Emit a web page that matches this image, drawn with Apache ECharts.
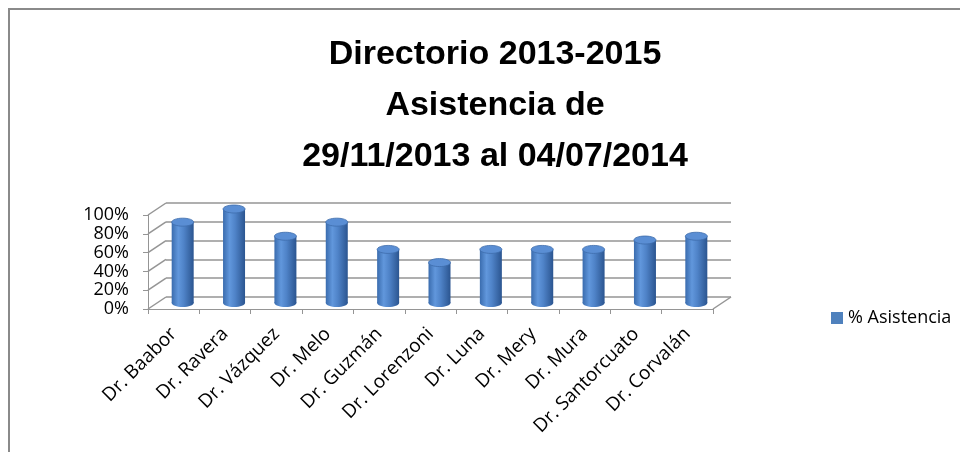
<!DOCTYPE html>
<html>
<head>
<meta charset="utf-8">
<script src="https://cdn.jsdelivr.net/npm/echarts@6/dist/echarts.min.js"></script>
<style>
html,body{margin:0;padding:0;background:#fff;}
#main{width:960px;height:452px;}
</style>
</head>
<body>
<div id="main"></div>
<script>
const categories = ['Dr. Baabor','Dr. Ravera','Dr. Vázquez','Dr. Melo','Dr. Guzmán','Dr. Lorenzoni','Dr. Luna','Dr. Mery','Dr. Mura','Dr. Santorcuato','Dr. Corvalán'];
const asistencia = [86, 100, 71, 86, 57, 43, 57, 57, 57, 67, 71];
const yTicks = [0, 20, 40, 60, 80, 100];
const seriesName = '% Asistencia';
const titleLines = ['Directorio 2013-2015', 'Asistencia de', '29/11/2013 al 04/07/2014'];

const DX = 18, DY = -12;
const TITLE_FONT = '"Liberation Sans", Arial, sans-serif';
const FONT = '"Open Sans", "Liberation Sans", sans-serif';
const GRID_COLOR = '#959595';

const chart = echarts.init(document.getElementById('main'), null, {renderer: 'canvas'});

const barGrad = new echarts.graphic.LinearGradient(0, 0, 1, 0, [
  {offset: 0, color: '#3a6cae'},
  {offset: 0.3, color: '#6197dc'},
  {offset: 0.55, color: '#4f83c8'},
  {offset: 1, color: '#2b5590'}
]);

const option = {
  backgroundColor: '#ffffff',
  animation: false,
  title: {
    text: titleLines.join('\n'),
    left: 490,
    textAlign: 'center',
    top: 24,
    textStyle: {
      fontFamily: TITLE_FONT,
      fontWeight: 'bold',
      fontSize: 34,
      lineHeight: 51,
      color: '#000'
    }
  },
  legend: {
    data: [seriesName],
    left: 826,
    top: 304,
    icon: 'rect',
    itemWidth: 12,
    itemHeight: 12,
    itemGap: 5,
    textStyle: {fontFamily: FONT, fontSize: 18, color: '#000'}
  },
  graphic: [{
    type: 'rect',
    shape: {x: 9, y: 9, width: 1000, height: 500},
    style: {fill: 'none', stroke: '#8a8a8a', lineWidth: 2},
    silent: true,
    z: -10
  }],
  grid: [
    {left: 148, top: 215, width: 565, height: 94},
    {left: 148 + DX, top: 215 + DY, width: 565, height: 94}
  ],
  xAxis: [
    {
      gridIndex: 0, type: 'category', data: categories,
      axisLine: {show: true, lineStyle: {color: GRID_COLOR, width: 1}},
      axisTick: {show: true, length: 5, lineStyle: {color: GRID_COLOR}},
      axisLabel: {rotate: 45, margin: 22, fontFamily: FONT, fontSize: 19, color: '#000', interval: 0}
    },
    {
      gridIndex: 1, type: 'category', data: categories,
      axisLine: {show: false}, axisTick: {show: false}, axisLabel: {show: false}
    }
  ],
  yAxis: [
    {
      gridIndex: 0, type: 'value', min: 0, max: 100, interval: 20,
      axisLine: {show: true, lineStyle: {color: GRID_COLOR, width: 1}},
      axisTick: {show: true, length: 5, lineStyle: {color: GRID_COLOR}},
      splitLine: {show: false},
      axisLabel: {formatter: '{value}%', margin: 19, fontFamily: FONT, fontSize: 18, color: '#000'}
    },
    {
      gridIndex: 1, type: 'value', min: 0, max: 100, interval: 20,
      axisLine: {show: false}, axisTick: {show: false}, axisLabel: {show: false},
      splitLine: {show: true, lineStyle: {color: GRID_COLOR, width: 1.5}}
    }
  ],
  series: [
    {
      type: 'custom',
      name: 'frame',
      xAxisIndex: 0, yAxisIndex: 0,
      silent: true,
      data: yTicks.map(v => [0, v]),
      encode: {x: 0, y: 1},
      renderItem: function (params, api) {
        const p = api.coord([api.value(0), api.value(1)]);
        const band = api.size([1, 0])[0];
        const left = p[0] - band / 2;
        const children = [{
          type: 'line',
          shape: {x1: left, y1: p[1], x2: left + DX, y2: p[1] + DY},
          style: {stroke: GRID_COLOR, lineWidth: 1.5}
        }];
        if (api.value(1) === 0) {
          const right = left + band * categories.length;
          children.push({
            type: 'line',
            shape: {x1: right, y1: p[1], x2: right + DX, y2: p[1] + DY},
            style: {stroke: GRID_COLOR, lineWidth: 1.5}
          });
        }
        return {type: 'group', children: children};
      },
      z: 1
    },
    {
      type: 'custom',
      name: seriesName,
      xAxisIndex: 0, yAxisIndex: 0,
      data: asistencia.map((v, i) => [i, v]),
      encode: {x: 0, y: 1},
      itemStyle: {color: '#4F81BD'},
      renderItem: function (params, api) {
        const i = api.value(0), v = api.value(1);
        const top = api.coord([i, v]);
        const base = api.coord([i, 0]);
        const cx = top[0] + DX / 2;
        const ty = top[1] + DY / 2;
        const by = base[1] + DY / 2;
        const rx = 11, ry = 4;
        return {
          type: 'group',
          children: [
            {type: 'ellipse', shape: {cx: cx, cy: by, rx: rx, ry: ry}, style: {fill: barGrad}},
            {type: 'rect', shape: {x: cx - rx, y: ty, width: rx * 2, height: by - ty}, style: {fill: barGrad}},
            {type: 'ellipse', shape: {cx: cx, cy: ty, rx: rx, ry: ry}, style: {fill: '#5a8ed4', stroke: '#3d6cab', lineWidth: 0.8}}
          ]
        };
      },
      z: 2
    }
  ]
};
chart.setOption(option);
</script>
</body>
</html>
